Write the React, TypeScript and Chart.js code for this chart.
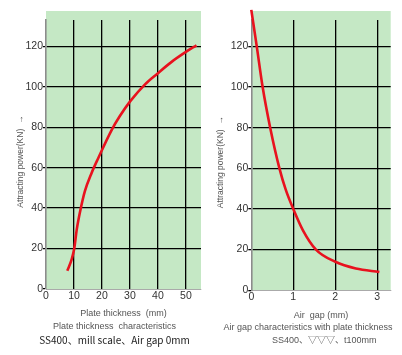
import { useEffect, useRef } from "react";
import { Chart, registerables } from "chart.js";

Chart.register(...registerables);

// Left chart: plate thickness characteristics
const plateThickness = [7.6, 9.2, 10.1, 11.0, 12.4, 13.9, 16.3, 18.7, 23.5, 26.4, 30.2, 35.4, 39.9, 44.9, 50, 53.8];
const plateForce = [9, 14.8, 20, 29.5, 39.7, 48.4, 57.4, 64.8, 78.7, 85.5, 93, 101.2, 106.6, 112.3, 117.2, 120.5];

// Right chart: air gap characteristics
const airGap = [0, 0.13, 0.27, 0.45, 0.67, 0.82, 1.0, 1.23, 1.54, 2.0, 2.49, 3.05];
const gapForce = [138, 120, 100, 80, 60, 49.5, 40, 29.5, 20, 14, 10.7, 9];

const yTitle = "Attracting power(KN)  →      ";
const leftXTitle = "Plate thickness  (mm)";
const leftSub = "Plate thickness  characteristics";
const leftTitle = "SS400、mill scale、Air gap 0mm";
const rightXTitle = "Air  gap (mm)";
const rightSub = "Air gap characteristics with plate thickness";
const rightTitle = "             SS400、▽▽▽、t100mm";

const SANS = "'Liberation Sans', Arial, sans-serif";
const CJK = "'Noto Sans CJK JP', 'Noto Sans', sans-serif";

const bgPlugin = {
  id: "plotBg",
  beforeDraw(chart: any, _args: any, opts: any) {
    const { ctx, chartArea } = chart;
    ctx.save();
    ctx.fillStyle = opts.color;
    ctx.fillRect(
      chartArea.left,
      chartArea.top - opts.extendTop,
      chartArea.right - chartArea.left,
      chartArea.bottom - chartArea.top + opts.extendTop
    );
    ctx.restore();
  },
};

type Cfg = {
  xs: number[];
  ys: number[];
  xMax: number;
  xStep: number;
  yWidth: number;
  rightWidth: number;
  yTitlePad: number;
  xTitle: string;
  sub: string;
  title: string;
  titleFont: any;
  titleColor: string;
};

function makeConfig(c: Cfg): any {
  return {
    type: "line",
    data: {
      datasets: [
        {
          data: c.xs.map((x, i) => ({ x, y: c.ys[i] })),
          borderColor: "#e8121e",
          borderWidth: 2.6,
          pointRadius: 0,
          cubicInterpolationMode: "monotone",
          fill: false,
          clip: false,
        },
      ],
    },
    options: {
      animation: false,
      responsive: false,
      layout: { padding: { top: 20, left: 0, right: 0, bottom: 0 } },
      plugins: {
        legend: { display: false },
        tooltip: { enabled: false },
        plotBg: { color: "#c5e8c5", extendTop: 9 },
        subtitle: {
          display: true,
          position: "bottom",
          text: c.sub,
          color: "#555",
          font: { family: SANS, size: 9, weight: "normal" },
          padding: { top: 0, bottom: 0 },
        },
        title: {
          display: true,
          position: "bottom",
          text: c.title,
          color: c.titleColor,
          font: c.titleFont,
          padding: { top: 2, bottom: 8.8 },
        },
      },
      scales: {
        x: {
          type: "linear",
          min: 0,
          max: c.xMax,
          grid: {
            color: (ctx: any) => (ctx.tick && ctx.tick.value === 0 ? "rgba(0,0,0,0)" : "#000"),
            lineWidth: 1.3,
            drawTicks: false,
          },
          border: { display: true, color: "#aaa", width: 1 },
          ticks: {
            stepSize: c.xStep,
            includeBounds: false,
            padding: 1,
            color: "#333",
            font: { family: SANS, size: 10.5 },
            maxRotation: 0,
          },
          title: {
            display: true,
            text: c.xTitle,
            color: "#555",
            font: { family: SANS, size: 9 },
            padding: { top: 5, bottom: 2 },
          },
        },
        y: {
          type: "linear",
          min: 0,
          max: 133,
          grid: {
            color: (ctx: any) => (ctx.tick && ctx.tick.value === 0 ? "rgba(0,0,0,0)" : "#000"),
            tickColor: "#000",
            lineWidth: 1.3,
            drawTicks: true,
            tickLength: 3,
          },
          border: { display: true, color: "#8c8c8c", width: 1.6 },
          ticks: {
            stepSize: 20,
            includeBounds: false,
            padding: 0,
            color: "#333",
            font: { family: SANS, size: 10.5 },
          },
          title: {
            display: true,
            text: yTitle,
            color: "#555",
            font: { family: SANS, size: 8.5 },
            padding: { top: c.yTitlePad, bottom: 0 },
          },
          afterFit: (s: any) => {
            s.width = c.yWidth;
          },
        },
        y2: {
          type: "linear",
          position: "right",
          display: true,
          grid: { display: false, drawTicks: false },
          border: { display: false },
          ticks: { display: false },
          afterFit: (s: any) => {
            s.width = c.rightWidth;
          },
        },
      },
    },
    plugins: [bgPlugin],
  };
}

function ChartCanvas({ cfg, left, width }: { cfg: Cfg; left: number; width: number }) {
  const ref = useRef<HTMLCanvasElement | null>(null);
  useEffect(() => {
    if (!ref.current) return;
    const chart = new Chart(ref.current, makeConfig(cfg));
    return () => chart.destroy();
  }, []);
  return (
    <canvas
      ref={ref}
      width={width}
      height={355}
      style={{ position: "absolute", left, top: 0, width, height: 355 }}
    />
  );
}

export default function App() {
  const leftCfg: Cfg = {
    xs: plateThickness,
    ys: plateForce,
    xMax: 55.4,
    xStep: 10,
    yWidth: 46,
    rightWidth: 28,
    yTitlePad: 15.4,
    xTitle: leftXTitle,
    sub: leftSub,
    title: leftTitle,
    titleFont: { family: CJK, size: 10, weight: "normal" },
    titleColor: "#222",
  };
  const rightCfg: Cfg = {
    xs: airGap,
    ys: gapForce,
    xMax: 3.32,
    xStep: 1,
    yWidth: 37.3,
    rightWidth: 11.3,
    yTitlePad: 1.4,
    xTitle: rightXTitle,
    sub: rightSub,
    title: rightTitle,
    titleFont: { family: SANS + ", 'Noto Sans CJK JP'", size: 9, weight: "normal" },
    titleColor: "#555",
  };
  return (
    <div
      style={{
        position: "absolute",
        left: 0,
        top: 0,
        width: 402,
        height: 355,
        overflow: "hidden",
        background: "#fff",
      }}
    >
      <ChartCanvas cfg={leftCfg} left={0} width={229} />
      <ChartCanvas cfg={rightCfg} left={214} width={188} />
    </div>
  );
}
